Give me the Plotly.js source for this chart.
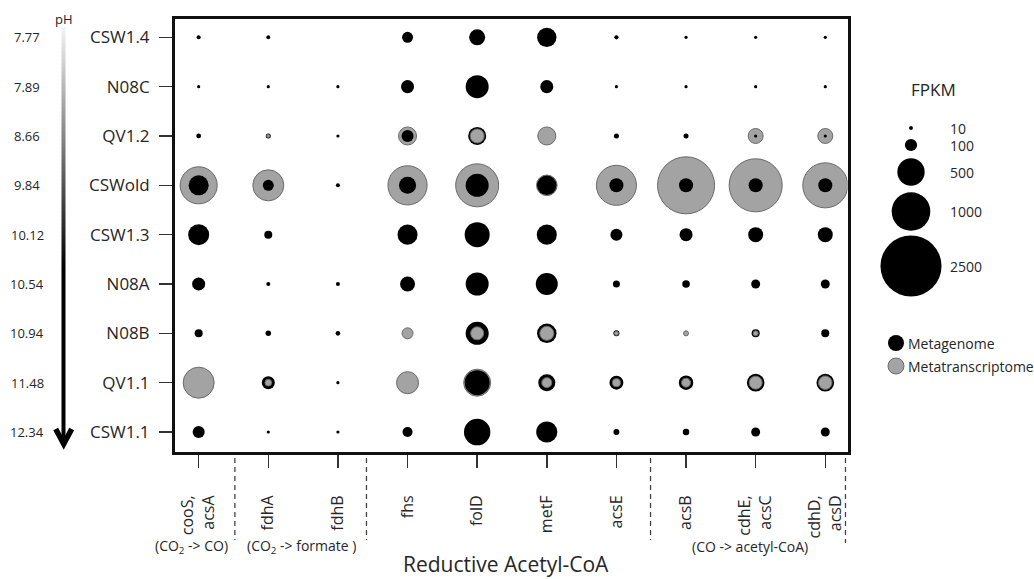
<!DOCTYPE html>
<html>
<head>
<meta charset="utf-8">
<script src="https://cdn.plot.ly/plotly-3.0.1.min.js"></script>
<style>html,body{margin:0;padding:0;background:#fff;}#chart{width:1034px;height:579px;}</style>
</head>
<body>
<div id="chart"></div>
<script>
// ---------- data ----------
const genes = ['cooS,<br>acsA', 'fdhA', 'fdhB', 'fhs', 'folD', 'metF', 'acsE', 'acsB', 'cdhE,<br>acsC', 'cdhD,<br>acsD'];
const samples = ['CSW1.4', 'N08C', 'QV1.2', 'CSWold', 'CSW1.3', 'N08A', 'N08B', 'QV1.1', 'CSW1.1'];
const phValues = ['7.77', '7.89', '8.66', '9.84', '10.12', '10.54', '10.94', '11.48', '12.34'];

// FPKM, rows = samples, columns = genes
const metagenome = [
  [11, 10, 0, 81, 172, 250, 12, 6, 6, 6],
  [6, 2, 2, 114, 355, 114, 4, 4, 4, 4],
  [15, 17, 6, 97, 218, 0, 17, 17, 4, 4],
  [270, 81, 11, 195, 355, 255, 132, 132, 132, 132],
  [296, 43, 0, 270, 420, 270, 97, 114, 150, 150],
  [114, 11, 11, 150, 355, 325, 33, 38, 54, 54],
  [43, 20, 14, 0, 355, 255, 24, 0, 43, 43],
  [0, 114, 3, 0, 420, 195, 130, 140, 208, 208],
  [97, 6, 6, 67, 470, 300, 24, 28, 54, 54]
];
const metatranscriptome = [
  [0, 0, 0, 0, 0, 0, 0, 0, 0, 0],
  [0, 0, 0, 0, 0, 0, 0, 0, 0, 0],
  [0, 6, 0, 218, 132, 218, 0, 0, 150, 150],
  [920, 645, 0, 1030, 1240, 285, 1075, 2180, 1890, 1360],
  [0, 0, 0, 0, 0, 0, 0, 0, 0, 0],
  [0, 0, 0, 0, 0, 0, 0, 0, 0, 0],
  [0, 0, 0, 81, 114, 132, 11, 17, 17, 0],
  [645, 30, 0, 325, 490, 67, 43, 54, 114, 122],
  [0, 0, 0, 0, 0, 0, 0, 0, 0, 0]
];
const legendSizes = [10, 100, 500, 1000, 2500];
const legendLabels = ['10', '100', '500', '1000', '2500'];
const seriesNames = ['Metagenome', 'Metatranscriptome'];
const groupLabels = ['(CO<sub>2</sub> -&gt; CO)', '(CO<sub>2</sub> -&gt; formate )', '(CO -&gt; acetyl-CoA)'];
const groupLabelX = [-0.11, 1.47, 7.92];
const separatorsX = [0.52, 2.41, 6.49, 9.29];

// ---------- styles ----------
const W = 1034, H = 579;
const FONT = 'Open Sans, Noto Sans, sans-serif';
const TXT = '#262626';
const BLACK = '#000000', GREY = '#a3a3a3', GREY_LINE = '#6a6a6a';
const SIZEREF = 1.34;

// build bubble points, larger drawn first so smaller ones stay visible on top
const pts = [];
samples.forEach((s, i) => {
  genes.forEach((g, j) => {
    if (metagenome[i][j] > 0) pts.push({x: j, y: i, v: metagenome[i][j], c: BLACK, lc: BLACK, lw: 0});
    if (metatranscriptome[i][j] > 0) pts.push({x: j, y: i, v: metatranscriptome[i][j], c: GREY, lc: GREY_LINE, lw: 1});
  });
});
pts.sort((a, b) => b.v - a.v);

const bubbles = {
  type: 'scatter', mode: 'markers', xaxis: 'x', yaxis: 'y',
  x: pts.map(p => p.x), y: pts.map(p => p.y),
  marker: {
    size: pts.map(p => p.v), sizemode: 'area', sizeref: SIZEREF, sizemin: 1.6,
    color: pts.map(p => p.c),
    line: {color: pts.map(p => p.lc), width: pts.map(p => p.lw)},
    opacity: 1
  },
  hoverinfo: 'skip', showlegend: false
};

// FPKM size key (pixel overlay axes)
const legendY = [128, 145, 172, 211.5, 266];
const sizeKey = {
  type: 'scatter', mode: 'markers', xaxis: 'x2', yaxis: 'y2',
  x: legendSizes.map(() => 911), y: legendY,
  marker: {size: legendSizes, sizemode: 'area', sizeref: SIZEREF, color: BLACK, opacity: 1, line: {width: 0}},
  hoverinfo: 'skip', showlegend: false
};
const seriesKey = {
  type: 'scatter', mode: 'markers', xaxis: 'x2', yaxis: 'y2',
  x: [896, 896], y: [343, 366],
  marker: {size: [16, 16], color: [BLACK, GREY], opacity: 1, line: {color: [BLACK, GREY_LINE], width: [0, 1]}},
  hoverinfo: 'skip', showlegend: false
};

// pH gradient arrow shaft
const shaftTop = 27, shaftBottom = 443, nSeg = 104;
const yEdges = [], zCol = [];
for (let k = 0; k <= nSeg; k++) yEdges.push(shaftTop + (shaftBottom - shaftTop) * k / nSeg);
for (let k = 0; k < nSeg; k++) zCol.push([(yEdges[k] + yEdges[k + 1]) / 2]);
const shaft = {
  type: 'heatmap', xaxis: 'x2', yaxis: 'y2',
  x: [61.5, 65.9], y: yEdges, z: zCol, zmin: shaftTop, zmax: shaftBottom,
  colorscale: [[0, '#f4f4f4'], [0.58, '#000000'], [1, '#000000']],
  showscale: false, hoverinfo: 'skip'
};

const annotations = [];
samples.forEach((s, i) => annotations.push({
  xref: 'x2', yref: 'y', x: 27, y: i, text: phValues[i], showarrow: false,
  xanchor: 'center', yanchor: 'middle', font: {family: FONT, size: 13, color: TXT}
}));
annotations.push({xref: 'x2', yref: 'y2', x: 64, y: 19, text: 'pH', showarrow: false,
  xanchor: 'center', yanchor: 'middle', font: {family: FONT, size: 13, color: TXT}});
groupLabels.forEach((t, k) => annotations.push({
  xref: 'x', yref: 'y2', x: groupLabelX[k], y: 546, text: t, showarrow: false,
  xanchor: 'center', yanchor: 'middle', font: {family: FONT, size: 14, color: TXT}
}));
annotations.push({xref: 'x2', yref: 'y2', x: 506, y: 564, text: 'Reductive Acetyl-CoA', showarrow: false,
  xanchor: 'center', yanchor: 'middle', font: {family: FONT, size: 21, color: TXT}});
annotations.push({xref: 'x2', yref: 'y2', x: 933, y: 89, text: 'FPKM', showarrow: false,
  xanchor: 'center', yanchor: 'middle', font: {family: FONT, size: 17, color: TXT}});
legendLabels.forEach((t, k) => annotations.push({
  xref: 'x2', yref: 'y2', x: 948, y: legendY[k], text: t, showarrow: false,
  xanchor: 'left', yanchor: 'middle', font: {family: FONT, size: 14, color: TXT}
}));
seriesNames.forEach((t, k) => annotations.push({
  xref: 'x2', yref: 'y2', x: 906, y: [343, 366][k], text: t, showarrow: false,
  xanchor: 'left', yanchor: 'middle', font: {family: FONT, size: 14, color: TXT}
}));

const shapes = separatorsX.map((sx, k) => ({
  type: 'line', xref: 'x', yref: 'y2', x0: sx, x1: sx, y0: 458, y1: k === 3 ? 543 : 540,
  line: {color: '#444', width: 1.3, dash: '5px,4px'}
}));
shapes.push({type: 'path', xref: 'x2', yref: 'y2', path: 'M55.7,429 L63.7,444 L71.7,429',
  line: {color: '#000', width: 5.5}});

const layout = {
  width: W, height: H, margin: {l: 0, r: 0, t: 0, b: 0, pad: 0},
  paper_bgcolor: '#fff', plot_bgcolor: 'rgba(0,0,0,0)', showlegend: false,
  font: {family: FONT, color: TXT},
  xaxis: {
    domain: [175 / W, 847.5 / W], range: [-0.340, 9.319], anchor: 'y',
    tickmode: 'array', tickvals: genes.map((g, j) => j), ticktext: genes, tickangle: -90,
    ticks: 'outside', ticklen: 13, tickwidth: 1.5, tickcolor: '#333', ticklabelstandoff: 21,
    tickfont: {family: FONT, size: 16, color: TXT},
    showline: true, linewidth: 3, linecolor: '#111', mirror: true,
    showgrid: false, zeroline: false, fixedrange: true
  },
  yaxis: {
    domain: [1 - 452 / H, 1 - 18.5 / H], range: [8.405, -0.381], anchor: 'x',
    tickmode: 'array', tickvals: samples.map((s, i) => i), ticktext: samples,
    ticks: 'outside', ticklen: 13, tickwidth: 1.5, tickcolor: '#333', ticklabelstandoff: 6,
    tickfont: {family: FONT, size: 17, color: TXT},
    showline: true, linewidth: 3, linecolor: '#111', mirror: true,
    showgrid: false, zeroline: false, fixedrange: true
  },
  xaxis2: {domain: [0, 1], range: [0, W], anchor: 'y2', visible: false, fixedrange: true},
  yaxis2: {domain: [0, 1], range: [H, 0], anchor: 'x2', visible: false, fixedrange: true},
  annotations: annotations,
  shapes: shapes
};

Plotly.newPlot('chart', [shaft, bubbles, sizeKey, seriesKey], layout, {staticPlot: true, displayModeBar: false});
</script>
</body>
</html>
